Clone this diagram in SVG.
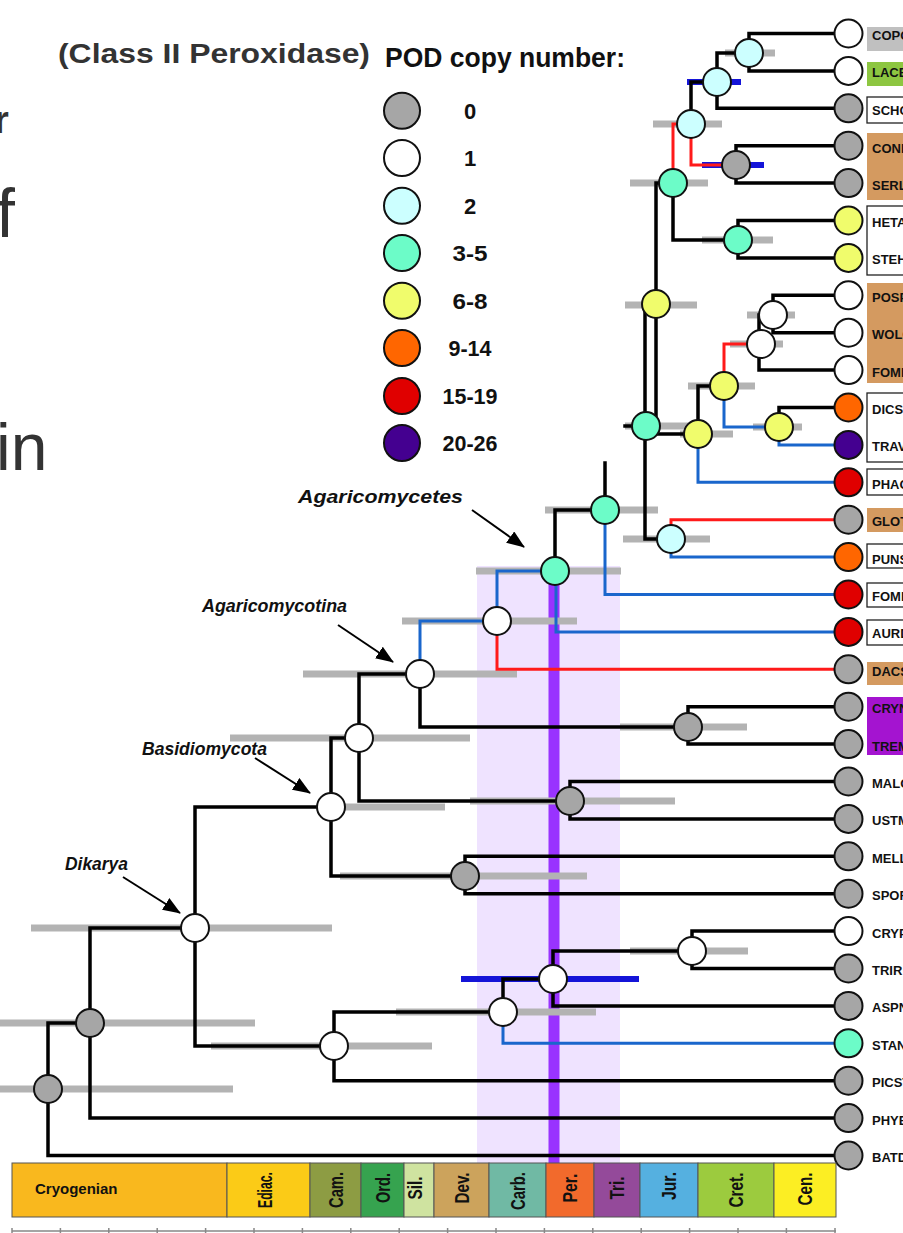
<svg xmlns="http://www.w3.org/2000/svg" width="903" height="1233" viewBox="0 0 903 1233">
<defs>
<marker id="ah" markerUnits="userSpaceOnUse" viewBox="0 0 18 14" markerWidth="18" markerHeight="14" refX="17" refY="7" orient="auto"><path d="M0,0 L18,7 L0,14 z" fill="#000"/></marker>
</defs>
<style>
.br{fill:none;stroke:#000;stroke-width:3.5;stroke-linejoin:miter;stroke-linecap:square}
.bl{fill:none;stroke:#1a66cc;stroke-width:3}
.rd{fill:none;stroke:#ff1a1a;stroke-width:3}
.eb{fill:none;stroke:#b3b3b3;stroke-width:7}
.ebb{fill:none;stroke:#1414d8;stroke-width:6}
.n{stroke:#111;stroke-width:2}
.c0{fill:#a6a6a6}.c1{fill:#fff}.c2{fill:#ccffff}.c3{fill:#6cfcc8}.c6{fill:#f0fc6c}.c9{fill:#ff6600}.c15{fill:#e00000}.c20{fill:#440090}
.lab{font-family:"Liberation Sans",Arial,sans-serif;font-weight:bold;font-size:13px;fill:#111}
.ann{font-family:"Liberation Sans",Arial,sans-serif;font-weight:bold;font-style:italic;font-size:18px;fill:#111}
.leg{font-family:"Liberation Sans",Arial,sans-serif;font-weight:bold;font-size:22px;fill:#111;text-anchor:middle}
.per{font-family:"Liberation Sans",Arial,sans-serif;font-weight:bold;font-size:20px;fill:#111;text-anchor:middle}
.frag{font-family:"Liberation Sans",Arial,sans-serif;fill:#333}
.arr{stroke:#000;stroke-width:2;fill:none}
.bxw{fill:#fff;stroke:#222;stroke-width:1.3}
.bxt{fill:#d49a60}
</style>
<rect width="903" height="1233" fill="#fff"/>

<g id="fragments">
<text class="frag" x="-6" y="133" font-size="38" font-weight="bold">r</text>
<text class="frag" x="-4" y="237" font-size="68">f</text>
<text class="frag" x="-4" y="470" font-size="66">in</text>
<text class="frag" x="58" y="63" font-size="27" font-weight="bold" textLength="312" lengthAdjust="spacingAndGlyphs">(Class II Peroxidase)</text>
</g>

<g id="epoch-band">
<rect x="477" y="566" width="143" height="597" fill="#efe3ff"/>
<rect x="548.5" y="571" width="11" height="592" fill="#9933ff"/>
</g>

<g id="error-bars">
<path class="eb" d="M0,1089H233 M0,1023H255 M31,928H332 M211,1046H432 M396,1012H596 M630,951H748 M320,807H445 M230,738H470 M340,876H587 M470,801H675 M303,674H517 M620,727H747 M402,621H577 M476,571H621 M545,510H658 M625,426H690 M623,539H710 M625,305H697 M680,434H733 M688,386H755 M753,427H802 M730,344H783 M747,315H795 M630,183H708 M702,240H773 M653,124H722 M725,53H775"/>
<path class="ebb" d="M461,979H639 M687,82H741 M702,165H764"/>
</g>

<g id="connectors">
<path class="br" d="M48,1089V1023H90 M48,1089V1155.5H848 M90,1023V928H195 M90,1023V1118.1H848 M195,928V807H331 M195,928V1046H334 M334,1046V1012H503 M334,1046V1080.7H848 M503,1012V979H553 M553,979V951H692 M553,979V1005.9H848 M692,951V931.1H848 M692,951V968.5H848 M331,807V738H359 M331,807V876H465 M465,876V856.3H848 M465,876V893.7H848 M359,738V674H420 M359,738V801H570 M570,801V781.5H848 M570,801V818.9H848 M420,674V727H688 M688,727V706.7H848 M688,727V744.1H848 M555,571V510H605 M605,510V463 M625,426H646 M645,426V304H656 M645,426V539H671 M656,304V183H673 M656,304V434H698 M698,434V386H724 M779,427V407.5H848 M759,344V315H773 M759,344V370.1H848 M773,315V295.3H848 M773,315V332.7H848 M673,183V240H738 M738,240V220.5H848 M738,240V257.9H848 M691,124V82H717 M736,165V145.7H848 M736,165V183.1H848 M717,82V53H749 M717,82V108.3H848 M749,53V33.5H848 M749,53V70.9H848"/>
<path class="bl" d="M503,1012V1043.3H848 M420,674V621H497 M497,621V571H555 M556,571V631.9H848 M605,510V594.5H848 M671,539V557.1H848 M698,434V482.3H848 M724,386V427H779 M779,427V444.9H848"/>
<path class="rd" d="M497,621V669.3H848 M671,539V519.7H848 M724,386V344H761 M673,183V124H691 M691,124V165H736"/>
<path class="arr" marker-end="url(#ah)" d="M472,510L524,547"/>
<path class="arr" marker-end="url(#ah)" d="M338,625L393,662"/>
<path class="arr" marker-end="url(#ah)" d="M255,758L310,793"/>
<path class="arr" marker-end="url(#ah)" d="M123,877L180,913"/>
</g>

<g id="annotations">
<text class="ann" x="298" y="503" textLength="165" lengthAdjust="spacingAndGlyphs">Agaricomycetes</text>
<text class="ann" x="202" y="612" textLength="145" lengthAdjust="spacingAndGlyphs">Agaricomycotina</text>
<text class="ann" x="142" y="755" textLength="125" lengthAdjust="spacingAndGlyphs">Basidiomycota</text>
<text class="ann" x="65" y="870" textLength="63" lengthAdjust="spacingAndGlyphs">Dikarya</text>
</g>

<g id="internal-nodes">
<circle id="n-root" class="n c0" cx="48" cy="1089" r="14"/>
<circle id="n-f1" class="n c0" cx="90" cy="1023" r="14"/>
<circle id="n-dikarya" class="n c1" cx="195" cy="928" r="14"/>
<circle id="n-basidio" class="n c1" cx="331" cy="807" r="14"/>
<circle id="n-asco" class="n c1" cx="334" cy="1046" r="14"/>
<circle id="n-pez" class="n c1" cx="503" cy="1012" r="14"/>
<circle id="n-p2" class="n c1" cx="553" cy="979" r="14"/>
<circle id="n-p3" class="n c1" cx="692" cy="951" r="14"/>
<circle id="n-b2" class="n c1" cx="359" cy="738" r="14"/>
<circle id="n-puc" class="n c0" cx="465" cy="876" r="14"/>
<circle id="n-ust" class="n c0" cx="570" cy="801" r="14"/>
<circle id="n-agm" class="n c1" cx="420" cy="674" r="14"/>
<circle id="n-tre" class="n c0" cx="688" cy="727" r="14"/>
<circle id="n-d1" class="n c1" cx="497" cy="621" r="14"/>
<circle id="n-agc" class="n c3" cx="555" cy="571" r="14"/>
<circle id="n-e1" class="n c3" cx="605" cy="510" r="14"/>
<circle id="n-a" class="n c3" cx="646" cy="426" r="14"/>
<circle id="n-c4" class="n c2" cx="671" cy="539" r="14"/>
<circle id="n-y1" class="n c6" cx="656" cy="304" r="14"/>
<circle id="n-y2" class="n c6" cx="698" cy="434" r="14"/>
<circle id="n-y3" class="n c6" cx="724" cy="386" r="14"/>
<circle id="n-y4" class="n c6" cx="779" cy="427" r="14"/>
<circle id="n-w2" class="n c1" cx="761" cy="344" r="14"/>
<circle id="n-w1" class="n c1" cx="773" cy="315" r="14"/>
<circle id="n-n1" class="n c3" cx="673" cy="183" r="14"/>
<circle id="n-n2" class="n c3" cx="738" cy="240" r="14"/>
<circle id="n-c1" class="n c2" cx="691" cy="124" r="14"/>
<circle id="n-c2" class="n c2" cx="717" cy="82" r="14"/>
<circle id="n-c3" class="n c2" cx="749" cy="53" r="14"/>
<circle id="n-g1" class="n c0" cx="736" cy="165" r="14"/>
</g>

<g id="label-boxes">
<rect x="867" y="27" width="50" height="24" fill="#c0c0c0"/>
<rect x="867" y="62" width="50" height="24" fill="#8dc641"/>
<rect class="bxw" x="867" y="97" width="50" height="26"/>
<rect class="bxt" x="867" y="133" width="50" height="67"/>
<rect class="bxw" x="867" y="206" width="50" height="69"/>
<rect class="bxt" x="867" y="283" width="50" height="100"/>
<rect class="bxw" x="867" y="393" width="50" height="69"/>
<rect class="bxw" x="867" y="469" width="50" height="26"/>
<rect class="bxt" x="867" y="508" width="50" height="24"/>
<rect class="bxw" x="867" y="544" width="50" height="24"/>
<rect class="bxw" x="867" y="583" width="50" height="24"/>
<rect class="bxw" x="867" y="620" width="50" height="25"/>
<rect class="bxt" x="867" y="662" width="50" height="23"/>
<rect x="867" y="697" width="50" height="58" fill="#a414d0"/>
</g>

<g id="tips">
<g id="t-copc"><circle class="n c1" cx="848.5" cy="33.5" r="14"/><text class="lab" x="872" y="40">COPC</text></g>
<g id="t-lacb"><circle class="n c1" cx="848.5" cy="70.9" r="14"/><text class="lab" x="872" y="77.4">LACB</text></g>
<g id="t-schc"><circle class="n c0" cx="848.5" cy="108.3" r="14"/><text class="lab" x="872" y="114.8">SCHC</text></g>
<g id="t-conp"><circle class="n c0" cx="848.5" cy="145.7" r="14"/><text class="lab" x="872" y="153">CONP</text></g>
<g id="t-serl"><circle class="n c0" cx="848.5" cy="183.1" r="14"/><text class="lab" x="872" y="189.6">SERL</text></g>
<g id="t-heta"><circle class="n c6" cx="848.5" cy="220.5" r="14"/><text class="lab" x="872" y="227">HETA</text></g>
<g id="t-steh"><circle class="n c6" cx="848.5" cy="257.9" r="14"/><text class="lab" x="872" y="264.4">STEH</text></g>
<g id="t-posp"><circle class="n c1" cx="848.5" cy="295.3" r="14"/><text class="lab" x="872" y="301.8">POSP</text></g>
<g id="t-wolc"><circle class="n c1" cx="848.5" cy="332.7" r="14"/><text class="lab" x="872" y="339.2">WOLC</text></g>
<g id="t-fomp"><circle class="n c1" cx="848.5" cy="370.1" r="14"/><text class="lab" x="872" y="376.6">FOMP</text></g>
<g id="t-dics"><circle class="n c9" cx="848.5" cy="407.5" r="14"/><text class="lab" x="872" y="414">DICS</text></g>
<g id="t-trav"><circle class="n c20" cx="848.5" cy="444.9" r="14"/><text class="lab" x="872" y="451.4">TRAV</text></g>
<g id="t-phac"><circle class="n c15" cx="848.5" cy="482.3" r="14"/><text class="lab" x="872" y="488.8">PHAC</text></g>
<g id="t-glot"><circle class="n c0" cx="848.5" cy="519.7" r="14"/><text class="lab" x="872" y="526.2">GLOT</text></g>
<g id="t-puns"><circle class="n c9" cx="848.5" cy="557.1" r="14"/><text class="lab" x="872" y="563.6">PUNS</text></g>
<g id="t-fomm"><circle class="n c15" cx="848.5" cy="594.5" r="14"/><text class="lab" x="872" y="601">FOMM</text></g>
<g id="t-aurd"><circle class="n c15" cx="848.5" cy="631.9" r="14"/><text class="lab" x="872" y="638.4">AURD</text></g>
<g id="t-dacs"><circle class="n c0" cx="848.5" cy="669.3" r="14"/><text class="lab" x="872" y="675.8">DACS</text></g>
<g id="t-cryn"><circle class="n c0" cx="848.5" cy="706.7" r="14"/><text class="lab" x="872" y="713.2">CRYN</text></g>
<g id="t-trem"><circle class="n c0" cx="848.5" cy="744.1" r="14"/><text class="lab" x="872" y="750.6">TREM</text></g>
<g id="t-malg"><circle class="n c0" cx="848.5" cy="781.5" r="14"/><text class="lab" x="872" y="788">MALG</text></g>
<g id="t-ustm"><circle class="n c0" cx="848.5" cy="818.9" r="14"/><text class="lab" x="872" y="825.4">USTM</text></g>
<g id="t-mell"><circle class="n c0" cx="848.5" cy="856.3" r="14"/><text class="lab" x="872" y="862.8">MELL</text></g>
<g id="t-spor"><circle class="n c0" cx="848.5" cy="893.7" r="14"/><text class="lab" x="872" y="900.2">SPOR</text></g>
<g id="t-cryp"><circle class="n c1" cx="848.5" cy="931.1" r="14"/><text class="lab" x="872" y="937.6">CRYP</text></g>
<g id="t-trir"><circle class="n c0" cx="848.5" cy="968.5" r="14"/><text class="lab" x="872" y="975">TRIR</text></g>
<g id="t-aspn"><circle class="n c0" cx="848.5" cy="1005.9" r="14"/><text class="lab" x="872" y="1012.4">ASPN</text></g>
<g id="t-stan"><circle class="n c3" cx="848.5" cy="1043.3" r="14"/><text class="lab" x="872" y="1049.8">STAN</text></g>
<g id="t-pics"><circle class="n c0" cx="848.5" cy="1080.7" r="14"/><text class="lab" x="872" y="1087.2">PICST</text></g>
<g id="t-phyb"><circle class="n c0" cx="848.5" cy="1118.1" r="14"/><text class="lab" x="872" y="1124.6">PHYB</text></g>
<g id="t-batd"><circle class="n c0" cx="848.5" cy="1155.5" r="14"/><text class="lab" x="872" y="1162">BATD</text></g>
</g>

<g id="legend">
<text x="385" y="67" font-family="Liberation Sans, Arial, sans-serif" font-weight="bold" font-size="28" fill="#111" textLength="240" lengthAdjust="spacingAndGlyphs">POD copy number:</text>
<circle class="n c0" cx="402" cy="110.7" r="18"/><text class="leg" x="470" y="118.7">0</text>
<circle class="n c1" cx="402" cy="158" r="18"/><text class="leg" x="470" y="166">1</text>
<circle class="n c2" cx="402" cy="205.7" r="18"/><text class="leg" x="470" y="213.7">2</text>
<circle class="n c3" cx="402" cy="253" r="18"/><text class="leg" x="470" y="261" textLength="35" lengthAdjust="spacingAndGlyphs">3-5</text>
<circle class="n c6" cx="402" cy="300.7" r="18"/><text class="leg" x="470" y="308.7" textLength="35" lengthAdjust="spacingAndGlyphs">6-8</text>
<circle class="n c9" cx="402" cy="348" r="18"/><text class="leg" x="470" y="356" textLength="43" lengthAdjust="spacingAndGlyphs">9-14</text>
<circle class="n c15" cx="402" cy="396" r="18"/><text class="leg" x="470" y="404" textLength="55" lengthAdjust="spacingAndGlyphs">15-19</text>
<circle class="n c20" cx="402" cy="443" r="18"/><text class="leg" x="470" y="451" textLength="55" lengthAdjust="spacingAndGlyphs">20-26</text>
</g>

<g id="timescale" stroke="#555" stroke-width="1">
<rect x="12" y="1163" width="215" height="54" fill="#f9b81e"/>
<rect x="227" y="1163" width="83" height="54" fill="#fbcb17"/>
<rect x="310" y="1163" width="51" height="54" fill="#8d9c43"/>
<rect x="361" y="1163" width="43" height="54" fill="#36a34f"/>
<rect x="404" y="1163" width="30" height="54" fill="#cfe3a0"/>
<rect x="434" y="1163" width="55" height="54" fill="#cca35c"/>
<rect x="489" y="1163" width="57" height="54" fill="#70b9a4"/>
<rect x="546" y="1163" width="48" height="54" fill="#f26a2c"/>
<rect x="594" y="1163" width="46" height="54" fill="#944a9a"/>
<rect x="640" y="1163" width="58" height="54" fill="#55b0e0"/>
<rect x="698" y="1163" width="76" height="54" fill="#9ccb3e"/>
<rect x="774" y="1163" width="62" height="54" fill="#fcee23"/>
</g>
<g id="timescale-labels">
<text x="35" y="1194" font-family="Liberation Sans, Arial, sans-serif" font-weight="bold" font-size="15" fill="#111">Cryogenian</text>
<text class="per" transform="translate(272,1190) rotate(-90)" textLength="36" lengthAdjust="spacingAndGlyphs">Ediac.</text>
<text class="per" transform="translate(343,1190) rotate(-90)" textLength="36" lengthAdjust="spacingAndGlyphs">Cam.</text>
<text class="per" transform="translate(390,1188) rotate(-90)" textLength="30" lengthAdjust="spacingAndGlyphs">Ord.</text>
<text class="per" transform="translate(422,1188) rotate(-90)" textLength="23" lengthAdjust="spacingAndGlyphs">Sil.</text>
<text class="per" transform="translate(469,1188) rotate(-90)" textLength="31" lengthAdjust="spacingAndGlyphs">Dev.</text>
<text class="per" transform="translate(525,1191) rotate(-90)" textLength="38" lengthAdjust="spacingAndGlyphs">Carb.</text>
<text class="per" transform="translate(577,1188) rotate(-90)" textLength="29" lengthAdjust="spacingAndGlyphs">Per.</text>
<text class="per" transform="translate(624,1188) rotate(-90)" textLength="23" lengthAdjust="spacingAndGlyphs">Tri.</text>
<text class="per" transform="translate(676,1186) rotate(-90)" textLength="28" lengthAdjust="spacingAndGlyphs">Jur.</text>
<text class="per" transform="translate(743,1190) rotate(-90)" textLength="35" lengthAdjust="spacingAndGlyphs">Cret.</text>
<text class="per" transform="translate(812,1189) rotate(-90)" textLength="33" lengthAdjust="spacingAndGlyphs">Cen.</text>
</g>
<g id="time-axis" stroke="#888" stroke-width="1.5" fill="none">
<path d="M12,1231H836 M12,1228V1233 M60.4,1228V1233 M108.8,1228V1233 M157.2,1228V1233 M205.6,1228V1233 M254,1228V1233 M302.4,1228V1233 M350.8,1228V1233 M399.2,1228V1233 M447.6,1228V1233 M496,1228V1233 M544.4,1228V1233 M592.8,1228V1233 M641.2,1228V1233 M689.6,1228V1233 M738,1228V1233 M786.4,1228V1233 M835,1228V1233"/>
</g>
</svg>
